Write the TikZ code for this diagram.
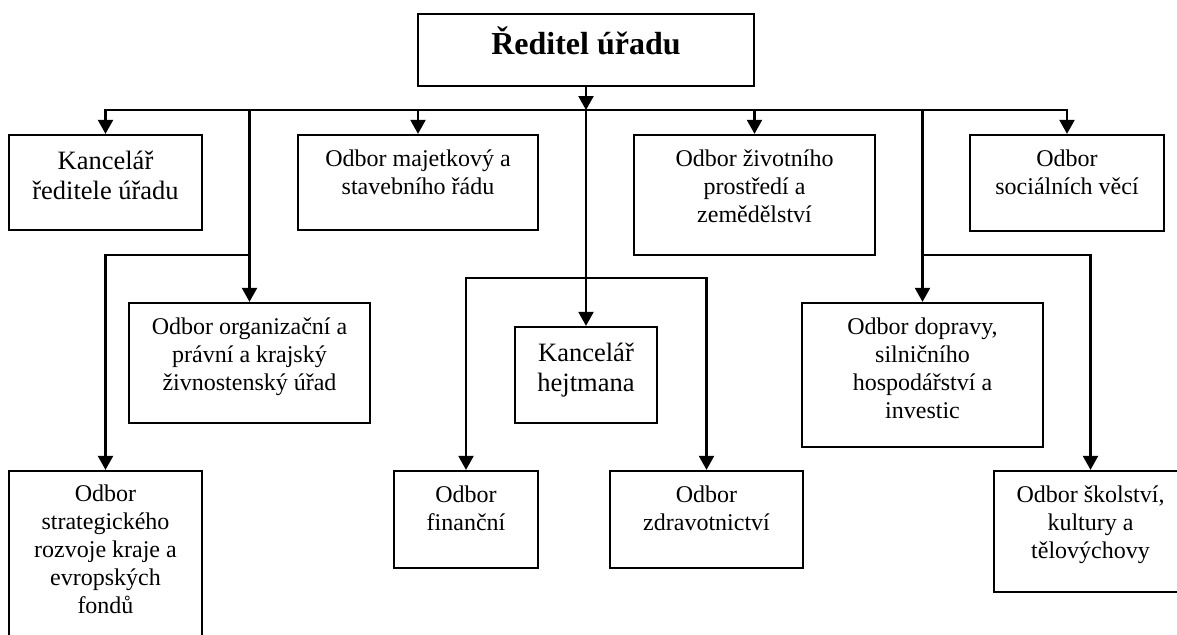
\documentclass[tikz,border=0pt]{standalone}
\usepackage{fontspec}
\setmainfont{Liberation Serif}
\usetikzlibrary{arrows.meta}

\tikzset{
  box/.style={draw, line width=2.3pt, inner sep=0pt},
  txt/.style={align=center, inner sep=0pt, anchor=north,
              font=\fontsize{24}{28}\selectfont},
  txtbig/.style={align=center, inner sep=0pt, anchor=north,
              font=\fontsize{26.5}{30}\selectfont},
  arr/.style={line width=2.3pt, -{Triangle[width=15pt,length=14pt]}},
}

\begin{document}
\begin{tikzpicture}[x=1pt,y=-1pt]
\useasboundingbox (0,0) rectangle (1177,634);
\clip (0,0) rectangle (1177,634);

% rails of the tree
\coordinate (bus) at (0,110);
\coordinate (brA) at (0,255);
\coordinate (brB) at (0,278);

% head of the office
\node[box, minimum width=336pt, minimum height=72pt] (top) at (586,50) {};
\node[inner sep=0pt, anchor=base, font=\bfseries\fontsize{32}{38}\selectfont]
  (top-t) at ([yshift=-42pt]top.north) {Ředitel úřadu};

% first row
\node[box, minimum width=193pt, minimum height=95pt] (kr) at (105.5,182.5) {};
\node[txtbig] (kr-t) at ([yshift=-14pt]kr.north) {\strut Kancelář\\\strut ředitele úřadu};

\node[box, minimum width=240pt, minimum height=95pt] (maj) at (418,182.5) {};
\node[txt] (maj-t) at ([yshift=-12.4pt]maj.north) {\strut Odbor majetkový a\\\strut stavebního řádu};

\node[box, minimum width=241pt, minimum height=120pt] (ziv) at (754.5,195) {};
\node[txt] (ziv-t) at ([yshift=-12.4pt]ziv.north) {\strut Odbor životního\\\strut prostředí a\\\strut zemědělství};

\node[box, minimum width=194pt, minimum height=96pt] (soc) at (1067,183) {};
\node[txt] (soc-t) at ([yshift=-12.4pt]soc.north) {\strut Odbor\\\strut sociálních věcí};

% second row
\node[box, minimum width=241pt, minimum height=120pt] (org) at (249.5,363) {};
\node[txt] (org-t) at ([yshift=-12.4pt]org.north) {\strut Odbor organizační a\\\strut právní a krajský\\\strut živnostenský úřad};

\node[box, minimum width=142pt, minimum height=96pt] (kh) at (586,375) {};
\node[txtbig] (kh-t) at ([yshift=-14pt]kh.north) {\strut Kancelář\\\strut hejtmana};

\node[box, minimum width=241pt, minimum height=144pt] (dop) at (922.5,375) {};
\node[txt] (dop-t) at ([yshift=-12.4pt]dop.north) {\strut Odbor dopravy,\\\strut silničního\\\strut hospodářství a\\\strut investic};

% third row
\node[box, minimum width=193pt, minimum height=174pt] (str) at (105.5,558) {};
\node[txt] (str-t) at ([yshift=-11.4pt]str.north) {\strut Odbor\\\strut strategického\\\strut rozvoje kraje a\\\strut evropských\\\strut fondů};

\node[box, minimum width=144pt, minimum height=97pt] (fin) at (466,519.5) {};
\node[txt] (fin-t) at ([yshift=-12.4pt]fin.north) {\strut Odbor\\\strut finanční};

\node[box, minimum width=193pt, minimum height=97pt] (zdr) at (706.5,519.5) {};
\node[txt] (zdr-t) at ([yshift=-12.4pt]zdr.north) {\strut Odbor\\\strut zdravotnictví};

\node[box, minimum width=193pt, minimum height=121pt] (sko) at (1090.5,531.5) {};
\node[txt] (sko-t) at ([yshift=-12.4pt]sko.north) {\strut Odbor školství,\\\strut kultury a\\\strut tělovýchovy};

% connectors
\draw[arr] (top.south) -- (top.south |- bus);
\draw[arr] (top.south |- bus) -| (kr.north);
\draw[arr] (top.south |- bus) -| (soc.north);
\draw[arr] (maj.north |- bus) -- (maj.north);
\draw[arr] (ziv.north |- bus) -- (ziv.north);

\draw[arr] (org.north |- bus) -- (org.north);
\draw[arr] (org.north |- brA) -| (str.north);

\draw[arr] (top.south |- bus) -- (kh.north);
\draw[arr] (kh.north |- brB) -| (fin.north);
\draw[arr] (kh.north |- brB) -| (zdr.north);

\draw[arr] (dop.north |- bus) -- (dop.north);
\draw[arr] (dop.north |- brA) -| (sko.north);
\end{tikzpicture}
\end{document}
